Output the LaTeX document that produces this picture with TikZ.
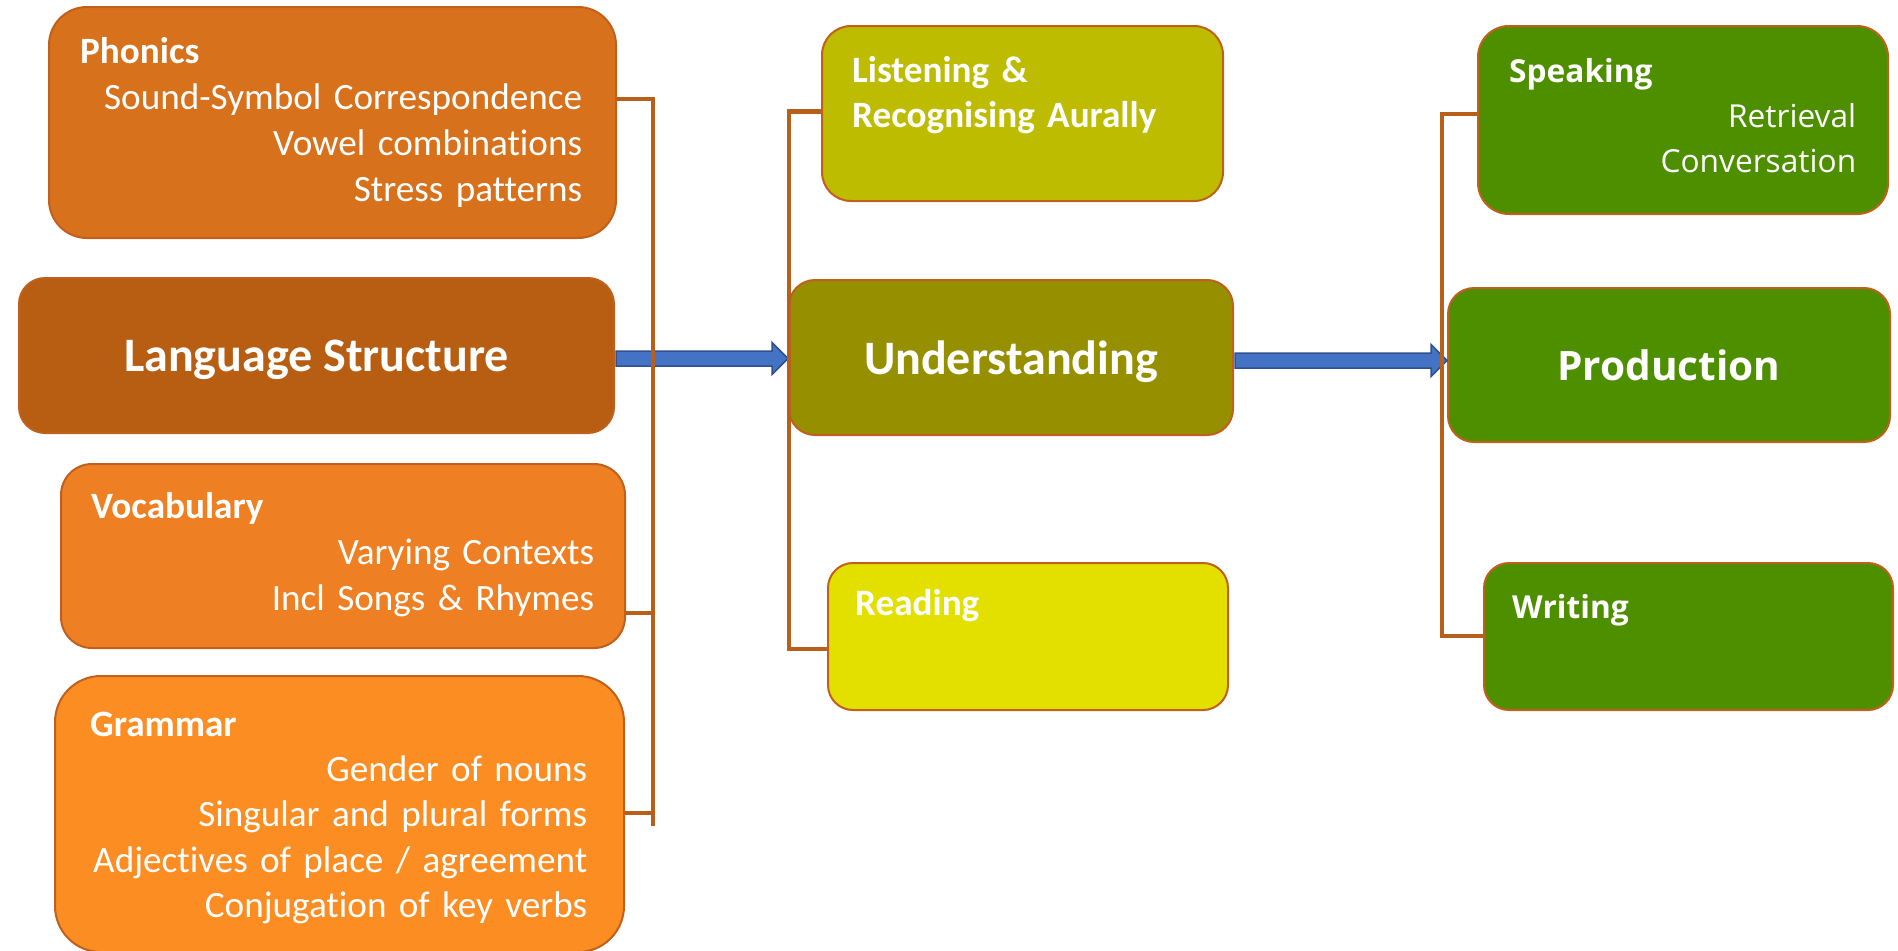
\documentclass[tikz,border=0pt]{standalone}
\usepackage{fontspec}
\setmainfont{Carlito}[Ligatures=NoCommon]
\newfontfamily\opensans{Open Sans}
\usepackage{tikz}
\usetikzlibrary{calc}
\definecolor{edgeorange}{HTML}{C0601C}
\definecolor{linkorange}{HTML}{B8601A}
\definecolor{phonicsfill}{HTML}{D8711C}
\definecolor{structfill}{HTML}{B85E13}
\definecolor{vocabfill}{HTML}{EE7F22}
\definecolor{grammarfill}{HTML}{FB8D23}
\definecolor{listenfill}{HTML}{BEBC00}
\definecolor{underfill}{HTML}{969000}
\definecolor{readfill}{HTML}{E3E000}
\definecolor{prodgreen}{HTML}{4E8F00}
\definecolor{arrowblue}{HTML}{4472C4}
\definecolor{arrowedge}{HTML}{2F528F}
\newcommand{\headline}[1]{\makebox[\linewidth][l]{\bfseries #1}}
\tikzset{%
  box/.style       = {shape=rectangle, draw=edgeorange, line width=2bp,%
                      inner sep=0pt, anchor=north west},%
  hub/.style       = {box, text=white, text depth=0pt,%
                      font=\bfseries\fontsize{48.2}{58}\selectfont},%
  txt/.style       = {inner sep=0pt, anchor=base west, text=white,%
                      font=\fontsize{37.3}{46.2}\selectfont},%
  gtxt/.style      = {txt, font=\opensans\fontsize{31.8}{45.2}\selectfont},%
  bracket/.style   = {draw=linkorange, line width=4.5bp},%
  blockarrow/.style = {draw=arrowedge, fill=arrowblue, line width=1.5bp,%
                      to path={let \p1=($(\tikztostart)+(0,3)$), \p2=(\tikztotarget) in
                        ({\x1+1bp},{\y1+7.5bp}) -- ({\x2-16bp},{\y1+7.5bp})
                        -- ({\x2-16bp},{\y1+16bp}) -- (\x2,\y1)
                        -- ({\x2-16bp},{\y1-16bp}) -- ({\x2-16bp},{\y1-7.5bp})
                        -- ({\x1+1bp},{\y1-7.5bp}) -- cycle}}%
}
\begin{document}
\begin{tikzpicture}[x=1bp, y=-1bp]
  \useasboundingbox (0,0) rectangle (1898,950);
  % structure column
  \node[box, fill=phonicsfill, rounded corners=38bp, minimum width=567bp, minimum height=231bp] (phon) at (48,6) {};
  \node[txt, text width=502bp, align=right] (phon-txt) at (80,63)
    {\headline{Phonics}\\ Sound-Symbol Correspondence\\ Vowel combinations\\ Stress patterns};
  \node[hub, fill=structfill, rounded corners=26bp, minimum width=595bp, minimum height=155bp] (ls) at (18,277) {Language Structure};
  \node[box, fill=vocabfill, rounded corners=31bp, minimum width=564bp, minimum height=184bp] (voc) at (60,463) {};
  \node[txt, text width=503bp, align=right] (voc-txt) at (91,518)
    {\headline{Vocabulary}\\ Varying Contexts\\ Incl Songs \& Rhymes};
  \node[box, fill=grammarfill, rounded corners=46bp, minimum width=569bp, minimum height=276bp] (gram) at (54,675) {};
  \node[txt, text width=497bp, align=right, font=\fontsize{37.3}{45.5}\selectfont] (gram-txt) at (90,736)
    {\headline{Grammar}\\ Gender of nouns\\ Singular and plural forms\\ Adjectives of place / agreement\\ Conjugation of key verbs};
  % understanding column
  \node[box, fill=listenfill, rounded corners=29bp, minimum width=401bp, minimum height=175bp] (lis) at (821,25) {};
  \node[txt, text width=340bp, align=left, font=\bfseries\fontsize{37.3}{45.2}\selectfont] (lis-txt) at (852,82)
    {Listening \&\\ Recognising Aurally};
  \node[hub, fill=underfill, rounded corners=26bp, minimum width=444bp, minimum height=155bp] (und) at (788,279) {Understanding};
  \node[box, fill=readfill, rounded corners=25bp, minimum width=400bp, minimum height=147bp] (rea) at (827,562) {};
  \node[txt, font=\bfseries\fontsize{37.3}{45.2}\selectfont] (rea-txt) at (855,615) {Reading};
  % production column
  \node[box, fill=prodgreen, rounded corners=31bp, minimum width=410bp, minimum height=188bp] (spk) at (1477,25) {};
  \node[gtxt, text width=347bp, align=right] (spk-txt) at (1509,82)
    {\headline{Speaking}\\ Retrieval\\ Conversation};
  \node[hub, fill=prodgreen, rounded corners=26bp, minimum width=442bp, minimum height=154bp,
        font=\opensans\bfseries\fontsize{40.7}{50}\selectfont] (pro) at (1447,287) {Production};
  \node[box, fill=prodgreen, rounded corners=25bp, minimum width=409bp, minimum height=147bp] (wri) at (1483,562) {};
  \node[gtxt, font=\opensans\bfseries\fontsize{31.8}{45.2}\selectfont] (wri-txt) at (1512,618) {Writing};

  \draw[blockarrow] (ls.east) to (und.west);
  \draw[blockarrow] (und.east) to (pro.west);

  \coordinate (lfoot) at (653,826);
  \coordinate (mfoot) at (789,649);
  \coordinate (rfoot) at (1442,636);
  \draw[bracket] (phon.east |- 0,99) -| (lfoot);
  \draw[bracket] (voc.east |- 0,613) -- (lfoot |- 0,613);
  \draw[bracket] (gram.east |- 0,813) -- (lfoot |- 0,813);
  \draw[bracket] (lis.west |- 0,111.5) -| (mfoot) -- (rea.west |- mfoot);
  \draw[bracket] (spk.west |- 0,114) -| (rfoot) -- (wri.west |- rfoot);
\end{tikzpicture}
\end{document}
